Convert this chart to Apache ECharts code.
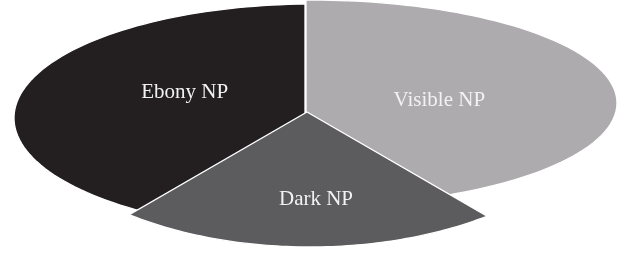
<!DOCTYPE html>
<html>
<head>
<meta charset="utf-8">
<title>NP share</title>
<script src="https://cdn.jsdelivr.net/npm/echarts@6/dist/echarts.min.js"></script>
<style>
  html, body { margin: 0; padding: 0; background: #fff; }
  #chart { width: 633px; height: 255px; }
</style>
</head>
<body>
<div id="chart"></div>
<script>
// 数据：从12点方向开始顺时针
var categories = ['Visible NP', 'Dark NP', 'Ebony NP'];
var shares = [40, 20, 40];

// 样式
var sliceColors = ['#adabad', '#5c5b5d', '#231f20'];
var sliceZ = [1, 3, 2];          // 深色扇区画在最上面
var tiltY = 0.42;                // 饼图倾斜后竖直方向的压缩

// 每个扇区的透视几何：顶点、外圆椭圆(中心/半径)、标签位置
var sliceGeo = [
  { apex: [306, 112], center: [310, 103], rx: 307, ry: 103, labelFrac: 0.45, labelOff: [0, 7] },
  { apex: [307, 112], center: [310, 87],  rx: 300, ry: 160, labelFrac: 0.65, labelOff: [9, 0] },
  { apex: [305, 117], center: [314, 118], rx: 300, ry: 114, labelFrac: 0.425, labelOff: [-4, -9] }
];

var total = shares.reduce(function (s, v) { return s + v; }, 0);
var startAngles = [];
var acc = 0;
shares.forEach(function (v) {
  startAngles.push(90 - acc / total * 360);
  acc += v;
});

// 从顶点沿角度方向射线与椭圆的交点
function rimPoint(g, deg) {
  var r = deg * Math.PI / 180;
  var dx = Math.cos(r), dy = -Math.sin(r) * tiltY;
  var px = (g.apex[0] - g.center[0]) / g.rx, py = (g.apex[1] - g.center[1]) / g.ry;
  var ux = dx / g.rx, uy = dy / g.ry;
  var a = ux * ux + uy * uy;
  var b = 2 * (px * ux + py * uy);
  var c = px * px + py * py - 1;
  var t = (-b + Math.sqrt(b * b - 4 * a * c)) / (2 * a);
  return [g.apex[0] + t * dx, g.apex[1] + t * dy];
}

function renderItem(params, api) {
  var i = params.dataIndex;
  var g = sliceGeo[i];
  var span = api.value(0) / total * 360;
  var a0 = startAngles[i], a1 = a0 - span;
  var pts = [g.apex.slice()];
  var n = 80;
  for (var k = 0; k <= n; k++) {
    pts.push(rimPoint(g, a0 + (a1 - a0) * k / n));
  }
  var mid = rimPoint(g, (a0 + a1) / 2);
  var lx = g.apex[0] + (mid[0] - g.apex[0]) * g.labelFrac + g.labelOff[0];
  var ly = g.apex[1] + (mid[1] - g.apex[1]) * g.labelFrac + g.labelOff[1];
  return {
    type: 'group',
    children: [{
      type: 'polygon',
      z2: sliceZ[i],
      shape: { points: pts },
      style: { fill: sliceColors[i], stroke: '#ffffff', lineWidth: 1.3, lineJoin: 'miter' }
    }, {
      type: 'text',
      z2: 10,
      x: lx,
      y: ly,
      style: {
        text: categories[i],
        fill: '#f2f2f2',
        font: '21px "Liberation Serif", "DejaVu Serif", serif',
        align: 'center',
        verticalAlign: 'middle'
      }
    }]
  };
}

var chart = echarts.init(document.getElementById('chart'));
var option = {
  animation: false,
  series: [{
    type: 'custom',
    coordinateSystem: 'none',
    renderItem: renderItem,
    data: shares.map(function (v, i) { return { value: [v], name: categories[i] }; })
  }]
};
chart.setOption(option);
</script>
</body>
</html>
